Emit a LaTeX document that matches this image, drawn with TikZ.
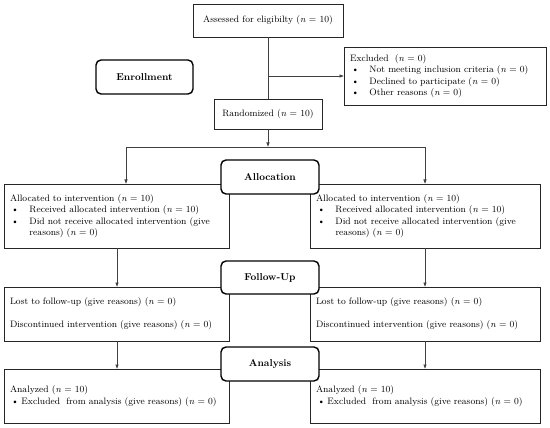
\documentclass[tikz,border=0pt]{standalone}
\usetikzlibrary{arrows.meta}

\newcommand{\bulitem}[2][18pt]{\hspace*{1.5pt}\makebox[#1][l]{\textbullet}#2}
\newcommand{\hangline}[2][18pt]{\hspace*{1.5pt}\hspace*{#1}#2}
\newcommand{\nval}[1]{(\textit{n} = #1)}

\tikzset{
  box/.style={draw=black!85, line width=0.9pt, inner xsep=6pt, inner ysep=0pt, outer sep=0pt, anchor=north west, align=left},
  cbox/.style={draw=black!85, line width=0.9pt, inner sep=0pt, outer sep=0pt, align=center},
  stage/.style={draw=black, line width=1.4pt, rounded corners=5pt, fill=white, inner sep=0pt, outer sep=0pt, font=\bfseries, minimum width=98pt, minimum height=34pt},
  link/.style={draw=black!75, line width=0.6pt},
  flow/.style={link, -{Latex[length=4.5pt,width=3.5pt]}}
}

\begin{document}
\begin{tikzpicture}[x=1pt, y=-1pt, font=\fontsize{9.3}{11.5}\selectfont]
  \useasboundingbox (0,0) rectangle (550,428);

  % enrollment
  \node[cbox, minimum width=150pt, minimum height=33pt] (assess) at (268,20.5) {Assessed for eligibilty \nval{10}};
  \node[box, text width=190pt, minimum height=58pt] (excl) at (344,47) {Excluded \ \nval{0}\\
    \bulitem{Not meeting inclusion criteria \nval{0}}\\
    \bulitem{Declined to participate \nval{0}}\\
    \bulitem{Other reasons \nval{0}}};
  \node[cbox, minimum width=108pt, minimum height=30pt] (rand) at (268,114) {Randomized \nval{10}};

  % allocation
  \node[box, text width=213pt, minimum height=64pt] (allocL) at (4,184) {Allocated to intervention \nval{10}\\
    \bulitem{Received allocated intervention \nval{10}}\\
    \bulitem{Did not receive allocated intervention (give}\\
    \hangline{reasons) \nval{0}}};
  \node[box, text width=218pt, minimum height=64pt] (allocR) at (310,184) {Allocated to intervention \nval{10}\\
    \bulitem{Received allocated intervention \nval{10}}\\
    \bulitem{Did not receive allocated intervention (give}\\
    \hangline{reasons) \nval{0}}};

  % follow-up
  \node[box, text width=213pt, minimum height=54pt] (followL) at (4,287) {Lost to follow-up (give reasons) \nval{0}\\[11.5pt]
    Discontinued intervention (give reasons) \nval{0}};
  \node[box, text width=218pt, minimum height=54pt] (followR) at (310,287) {Lost to follow-up (give reasons) \nval{0}\\[11.5pt]
    Discontinued intervention (give reasons) \nval{0}};

  % analysis
  \node[box, text width=213pt, minimum height=54pt] (anaL) at (4,369) {Analyzed \nval{10}\\
    \bulitem[10pt]{Excluded \ from analysis (give reasons) \nval{0}}};
  \node[box, text width=218pt, minimum height=54pt] (anaR) at (310,369) {Analyzed \nval{10}\\
    \bulitem[10pt]{Excluded \ from analysis (give reasons) \nval{0}}};

  % connectors
  \coordinate (forkL) at (126,147);
  \coordinate (forkR) at (425,147);
  \coordinate (colL) at (117,0);
  \coordinate (colR) at (425,0);
  \draw[link] (assess.south) -- (rand.north);
  \draw[flow] (assess.south |- excl.west) -- (excl.west);
  \draw[flow] (rand.south) -- (rand.south |- forkL);
  \draw[link] (forkL) -- (forkR);
  \draw[flow] (forkL) -- (forkL |- allocL.north);
  \draw[flow] (forkR) -- (forkR |- allocR.north);
  \draw[flow] (allocL.south -| colL) -- (followL.north -| colL);
  \draw[flow] (allocR.south -| colR) -- (followR.north -| colR);
  \draw[flow] (followL.south -| colL) -- (anaL.north -| colL);
  \draw[flow] (followR.south -| colR) -- (anaR.north -| colR);

  % stage labels
  \node[stage, minimum width=97pt] (enroll) at (144.5,77) {Enrollment};
  \node[stage] (allocLbl) at (270,177) {Allocation};
  \node[stage, minimum height=33pt] (followLbl) at (270,277.5) {Follow-Up};
  \node[stage] (anaLbl) at (270,364) {Analysis};
\end{tikzpicture}
\end{document}
